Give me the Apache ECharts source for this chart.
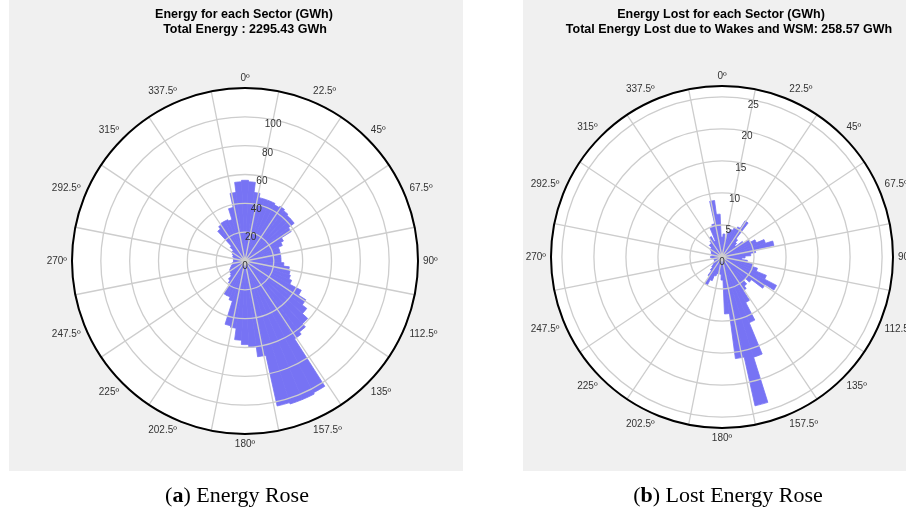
<!DOCTYPE html>
<html style="height: 100%">
<head>
<meta charset="utf-8">
</head>
<body style="height: 100%; margin: 0; background: #fff">
<div id="container" style="width: 906px; height: 515px"></div>
<script type="text/javascript" src="https://cdn.jsdelivr.net/npm/echarts@6/dist/echarts.min.js"></script>
<script type="text/javascript">
var dom = document.getElementById("container");
var myChart = echarts.init(dom);

// sector centres (deg, clockwise from north), 5 deg bins
var sectors = [0,5,10,15,20,25,30,35,40,45,50,55,60,65,70,75,80,85,90,95,100,105,110,115,
  120,125,130,135,140,145,150,155,160,165,170,175,180,185,190,195,200,205,210,215,220,225,230,235,
  240,245,250,255,260,265,270,275,280,285,290,295,300,305,310,315,320,325,330,335,340,345,350,355];

// energy per sector (GWh)
var energy = [56,55,48,45,45,45,44,45,44,43,43,38,30,28,25,25,25,25,25,27,31,32,33,35,
  44,50,54,59,62,64,103,104,104,103,67,60,58,55,47,46,29,27,27,19,17,14,13,13,
  12,11,10,9,9,8,8,8,8,8,9,9,10,11,11,14,28,30,31,31,30,38,48,55];

// energy lost per sector (GWh)
var lost = [3.1,3.6,2.7,4,4.5,4.9,5.3,6.7,3.6,3.1,2.7,4,4.9,5.8,7.1,8.3,5.3,4.5,3.6,3.1,4,4.9,5.8,7.5,
  9.6,8,5.8,4.9,5.7,6.2,8,11.1,16.4,23.8,16,8.9,3.6,2.7,2.2,2.7,3.1,4,4.9,3.6,2.7,2.2,1.8,1.6,
  1.4,1.3,1.3,1.3,1.4,1.6,1.8,1.6,1.4,1.6,1.8,1.8,2,2.2,2.2,2.7,2.7,3.1,3.6,2.7,4.9,5.3,8.9,6.7];

var energyMax = 120, energyStep = 20;
var lostMax = 26.7, lostStep = 5;
var angleStep = 22.5;

var barColor = '#7773f4';
var gridColor = '#cdcdcd';
var labelFont = 'Liberation Sans';

var polar = [], angleAxis = [], radiusAxis = [];

function addRose(center, r, max, step) {
    var base = polar.length;
    for (var k = 0; k < 3; k++) polar.push({center: center, radius: r});
    // 0: bars + white disc
    angleAxis.push({
        polarIndex: base, type: 'category', data: sectors,
        startAngle: 90 + 180 / sectors.length, clockwise: true, boundaryGap: true,
        axisLine: {show: false}, axisTick: {show: false}, axisLabel: {show: false}, splitLine: {show: false}
    });
    radiusAxis.push({
        polarIndex: base, type: 'value', min: 0, max: max, interval: step,
        axisLine: {show: false}, axisTick: {show: false}, axisLabel: {show: false}, splitLine: {show: false},
        splitArea: {show: true, areaStyle: {color: ['#ffffff', '#ffffff']}}
    });
    // 1: grid drawn over the bars
    angleAxis.push({
        polarIndex: base + 1, type: 'value', min: 0, max: 360, interval: angleStep,
        startAngle: 90 - angleStep / 2, clockwise: true, z: 5,
        axisLine: {show: false}, axisTick: {show: false}, axisLabel: {show: false},
        splitLine: {show: true, lineStyle: {color: gridColor, width: 1.3}}
    });
    radiusAxis.push({
        polarIndex: base + 1, type: 'value', min: 0, max: max, interval: step, z: 5,
        axisLine: {show: false}, axisTick: {show: false},
        axisLabel: {
            show: true, showMaxLabel: false, fontSize: 10, color: '#333', fontFamily: labelFont,
            margin: 0, align: 'center', verticalAlign: 'top'
        },
        splitLine: {show: true, lineStyle: {color: gridColor, width: 1.3}}
    });
    // 2: outer circle and direction labels
    angleAxis.push({
        polarIndex: base + 2, type: 'value', min: 0, max: 360, interval: angleStep,
        startAngle: 90, clockwise: true, z: 6,
        axisLine: {show: true, lineStyle: {color: '#000', width: 2}},
        axisTick: {show: false}, splitLine: {show: false},
        axisLabel: {
            margin: 5, fontSize: 10, color: '#333', fontFamily: labelFont,
            formatter: function (v) { return v >= 360 ? '' : v + 'º'; }
        }
    });
    radiusAxis.push({
        polarIndex: base + 2, type: 'value', min: 0, max: max,
        axisLine: {show: false}, axisTick: {show: false}, axisLabel: {show: false}, splitLine: {show: false}
    });
    return base;
}

var leftPolar = addRose([245, 261], 173, energyMax, energyStep);
var rightPolar = addRose([722, 257], 171, lostMax, lostStep);

function titleLine(text, x, y) {
    return {
        text: text, left: x, top: y, textAlign: 'center', padding: 0,
        textStyle: {fontSize: 12.5, fontWeight: 'bold', color: '#000', fontFamily: labelFont}
    };
}
function caption(letter, text, x) {
    return {
        text: '(' + '{b|' + letter + '}) ' + text, left: x, top: 485, textAlign: 'center', padding: 0,
        textStyle: {
            fontSize: 22, fontWeight: 'normal', color: '#000', fontFamily: 'Liberation Serif',
            rich: {b: {fontSize: 22, fontWeight: 'bold', color: '#000', fontFamily: 'Liberation Serif'}}
        }
    };
}

var option = {
    animation: false,
    backgroundColor: '#ffffff',
    graphic: {
        elements: [
            {type: 'rect', z: -10, silent: true, shape: {x: 9, y: 0, width: 454, height: 471}, style: {fill: '#f0f0f0'}},
            {type: 'rect', z: -10, silent: true, shape: {x: 523, y: 0, width: 383, height: 471}, style: {fill: '#f0f0f0'}}
        ]
    },
    title: [
        titleLine('Energy for each Sector (GWh)', 244, 8),
        titleLine('Total Energy : 2295.43 GWh', 245, 23),
        titleLine('Energy Lost for each Sector (GWh)', 721, 8),
        titleLine('Total Energy Lost due to Wakes and WSM: 258.57 GWh', 729, 23),
        caption('a', 'Energy Rose', 237),
        caption('b', 'Lost Energy Rose', 728)
    ],
    polar: polar,
    angleAxis: angleAxis,
    radiusAxis: radiusAxis,
    series: [
        {
            name: 'Energy', type: 'bar', coordinateSystem: 'polar', polarIndex: leftPolar,
            data: energy, barCategoryGap: '0%', z: 2, silent: true,
            itemStyle: {color: barColor, borderColor: barColor, borderWidth: 0.8}
        },
        {
            name: 'Lost', type: 'bar', coordinateSystem: 'polar', polarIndex: rightPolar,
            data: lost, barCategoryGap: '0%', z: 2, silent: true,
            itemStyle: {color: barColor, borderColor: barColor, borderWidth: 0.8}
        }
    ]
};

myChart.setOption(option, true);
</script>
</body>
</html>
